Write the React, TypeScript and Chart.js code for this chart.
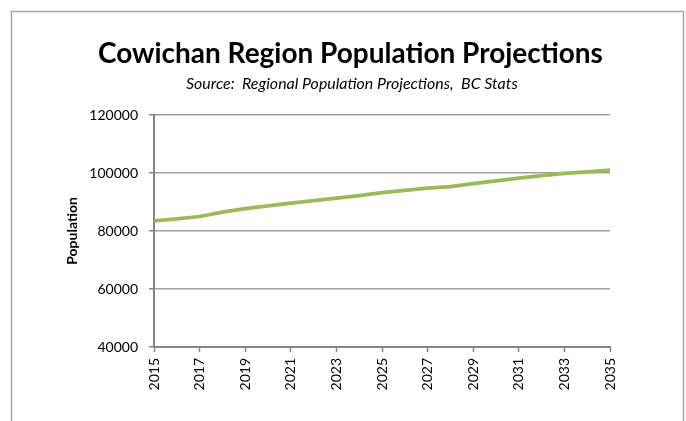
import React, { useEffect, useRef } from "react";
import { Chart, registerables } from "chart.js";

Chart.register(...registerables);

const years: number[] = [
  2015, 2016, 2017, 2018, 2019, 2020, 2021, 2022, 2023, 2024, 2025,
  2026, 2027, 2028, 2029, 2030, 2031, 2032, 2033, 2034, 2035,
];
const population: number[] = [
  83500, 84200, 85000, 86500, 87700, 88700, 89600, 90500, 91300, 92200, 93200,
  94000, 94800, 95300, 96300, 97300, 98200, 99100, 99900, 100400, 101000,
];
const titleText = "Cowichan Region Population Projections";
const subtitleText = "Source:  Regional Population Projections,  BC Stats";
const yAxisTitle = "Population";

const FONT = "Lato, 'Open Sans', sans-serif";

function fitFont(ctx: CanvasRenderingContext2D, text: string, style: string, target: number) {
  ctx.font = `${style} 100px ${FONT}`;
  const w = ctx.measureText(text).width;
  const size = (100 * target) / w;
  ctx.font = `${style} ${size.toFixed(2)}px ${FONT}`;
}

const framePlugin = {
  id: "frame",
  beforeDraw(chart: any) {
    const { ctx, width, height } = chart;
    ctx.save();
    ctx.fillStyle = "#ffffff";
    ctx.fillRect(0, 0, width, height);
    ctx.strokeStyle = "#a6a6a6";
    ctx.lineWidth = 1.5;
    ctx.beginPath();
    ctx.moveTo(11.5, height + 5);
    ctx.lineTo(11.5, 11.5);
    ctx.lineTo(683.5, 11.5);
    ctx.lineTo(683.5, height + 5);
    ctx.stroke();
    ctx.restore();
  },
  afterDraw(chart: any) {
    const { ctx } = chart;
    ctx.save();
    ctx.fillStyle = "#000000";
    ctx.textAlign = "left";
    ctx.textBaseline = "alphabetic";
    fitFont(ctx, titleText, "bold", 505);
    ctx.fillText(titleText, 98, 63);
    fitFont(ctx, subtitleText, "italic", 332);
    ctx.fillText(subtitleText, 186, 88.5);
    ctx.restore();
  },
};

export default function App() {
  const ref = useRef<HTMLCanvasElement | null>(null);

  useEffect(() => {
    if (!ref.current) return;
    const chart = new Chart(ref.current, {
      type: "line",
      data: {
        datasets: [
          {
            label: yAxisTitle,
            data: years.map((y, i) => ({ x: y, y: population[i] })),
            borderColor: "#9BBB59",
            borderWidth: 3.75,
            pointRadius: 0,
            tension: 0,
            borderJoinStyle: "round",
            borderCapStyle: "butt",
          },
        ],
      },
      options: {
        responsive: false,
        animation: false,
        devicePixelRatio: 1,
        layout: { padding: { top: 115, right: 76, left: 0, bottom: 0 } },
        plugins: {
          legend: { display: false },
          tooltip: { enabled: false },
          title: { display: false },
        },
        scales: {
          x: {
            type: "linear",
            min: 2015,
            max: 2035,
            afterFit: (s: any) => {
              s.height = 74;
            },
            ticks: {
              stepSize: 2,
              autoSkip: false,
              minRotation: 90,
              maxRotation: 90,
              padding: 6,
              color: "#000000",
              font: { family: FONT, size: 14 },
              callback: (v: any) => String(v),
            },
            grid: {
              drawOnChartArea: false,
              drawTicks: true,
              tickLength: 5,
              tickColor: "#868686",
              tickWidth: 1.5,
            },
            border: { color: "#868686", width: 2 },
          },
          y: {
            min: 40000,
            max: 120000,
            afterFit: (s: any) => {
              s.width = 154;
            },
            ticks: {
              stepSize: 20000,
              padding: 11,
              color: "#000000",
              font: { family: FONT, size: 14 },
              callback: (v: any) => String(v),
            },
            grid: {
              color: "#a0a0a0",
              lineWidth: 1.5,
              drawTicks: true,
              tickLength: 5,
              tickColor: "#868686",
            },
            border: { color: "#868686", width: 2 },
            title: {
              display: true,
              text: yAxisTitle,
              color: "#000000",
              font: { family: FONT, size: 14, weight: "bold" },
              padding: { top: 64, bottom: 0 },
            },
          },
        },
      },
      plugins: [framePlugin],
    });
    return () => chart.destroy();
  }, []);

  return (
    <div style={{ position: "fixed", left: 0, top: 0, width: 686, height: 421 }}>
      <canvas ref={ref} width={686} height={421} style={{ display: "block" }} />
    </div>
  );
}
